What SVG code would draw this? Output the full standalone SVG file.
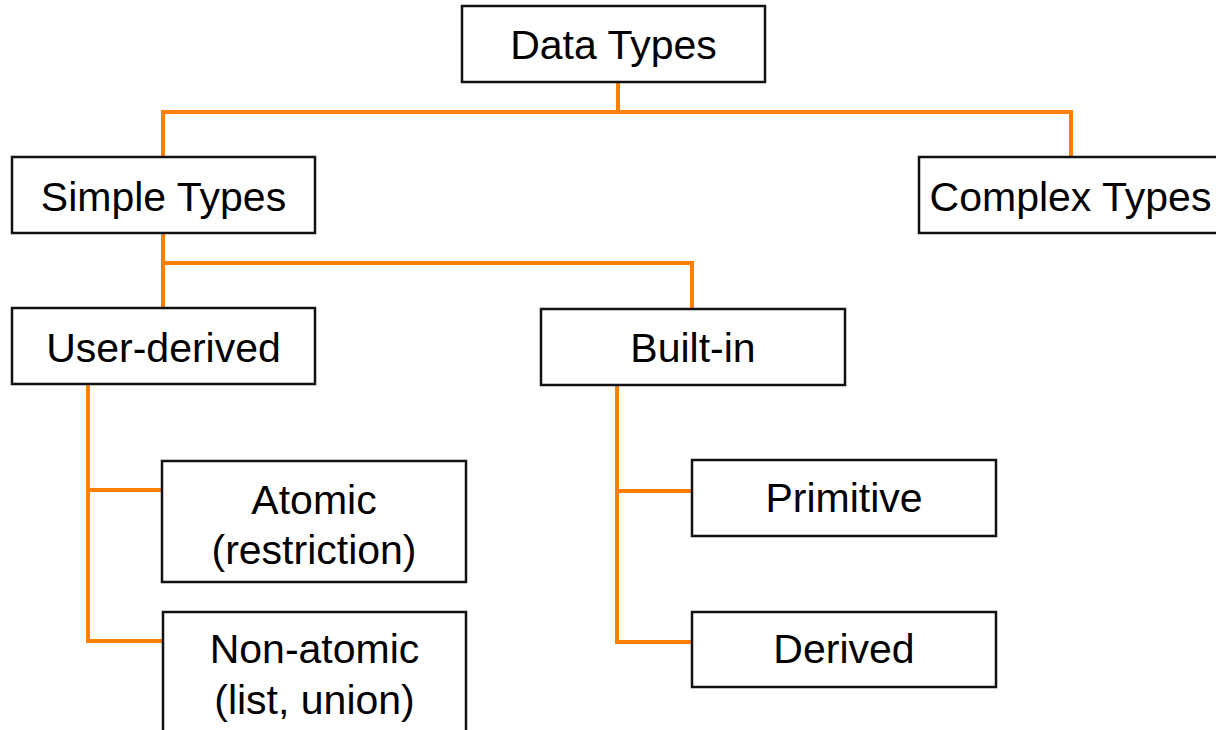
<svg xmlns="http://www.w3.org/2000/svg" width="1216" height="730" viewBox="0 0 1216 730">
  <style>
    .box { fill: #ffffff; stroke: #111111; stroke-width: 2.5; }
    .label { font-family: "Liberation Sans", Arial, Helvetica, sans-serif; font-size: 41px; fill: #000000; text-anchor: middle; }
    .link { fill: none; stroke: #ff8000; stroke-width: 4; stroke-linecap: butt; stroke-linejoin: miter; }
  </style>
  <rect width="1216" height="730" fill="#ffffff"/>

  <!-- tree connectors -->
  <g id="connectors">
    <path class="link" d="M618,82 V112 M163,112 H1071 M163,110 V157 M1071,110 V157"/>
    <path class="link" d="M163,233 V308 M163,263 H692 V309"/>
    <path class="link" d="M88,384 V641 H163 M88,490 H162"/>
    <path class="link" d="M617,385 V642 H692 M617,491 H692"/>
  </g>

  <g id="data-types">
    <rect class="box" x="462" y="6" width="303" height="76"/>
    <text class="label" x="613.5" y="59">Data Types</text>
  </g>

  <g id="simple-types">
    <rect class="box" x="12" y="157" width="303" height="76"/>
    <text class="label" x="163.5" y="211">Simple Types</text>
  </g>

  <g id="complex-types">
    <rect class="box" x="919" y="157" width="303" height="76"/>
    <text class="label" x="1070.5" y="211">Complex Types</text>
  </g>

  <g id="user-derived">
    <rect class="box" x="12" y="308" width="303" height="76"/>
    <text class="label" x="163.5" y="362">User-derived</text>
  </g>

  <g id="built-in">
    <rect class="box" x="541" y="309" width="304" height="76"/>
    <text class="label" x="693" y="362">Built-in</text>
  </g>

  <g id="atomic">
    <rect class="box" x="162" y="461" width="304" height="121"/>
    <text class="label" x="314" y="514">Atomic</text>
    <text class="label" x="314" y="564">(restriction)</text>
  </g>

  <g id="non-atomic">
    <rect class="box" x="163" y="612" width="303" height="140"/>
    <text class="label" x="314.5" y="663">Non-atomic</text>
    <text class="label" x="314.5" y="714">(list, union)</text>
  </g>

  <g id="primitive">
    <rect class="box" x="692" y="460" width="304" height="76"/>
    <text class="label" x="844" y="512">Primitive</text>
  </g>

  <g id="derived">
    <rect class="box" x="692" y="612" width="304" height="75"/>
    <text class="label" x="844" y="663">Derived</text>
  </g>
</svg>
